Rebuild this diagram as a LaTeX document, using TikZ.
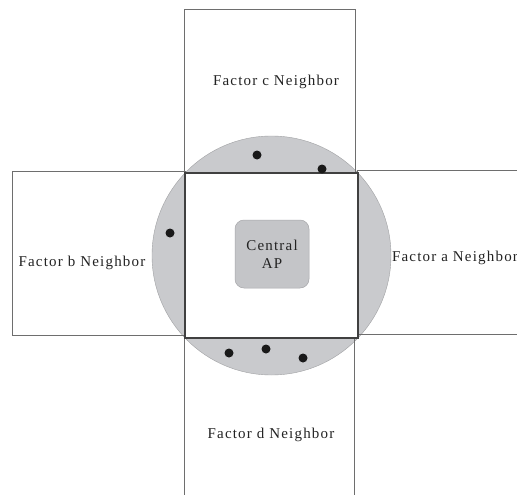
\documentclass[tikz,border=0pt]{standalone}
\usepackage{fontspec}
\newfontfamily\lblfont[LetterSpace=8]{Liberation Serif}
\definecolor{zonegray}{RGB}{201,202,205}
\definecolor{apgray}{RGB}{196,197,200}
\definecolor{edgegray}{RGB}{110,110,110}
\definecolor{txtgray}{RGB}{35,35,35}
\tikzset{
  area/.style={draw=edgegray, line width=0.8pt, fill=none},
  lbl/.style={font=\lblfont\fontsize{15}{17}\selectfont, text=txtgray, inner sep=0pt},
  station/.style={circle, fill=black!90, minimum size=9pt, inner sep=0pt},
}
\begin{document}
\begin{tikzpicture}[x=1pt,y=-1pt]
\useasboundingbox (0,0) rectangle (517,495);
\clip (0,0) rectangle (517,495);
\fill[white] (0,0) rectangle (517,495);
% coverage circle
\fill[zonegray, draw=zonegray!80!black, line width=0.4pt] (271.5,255.5) circle[radius=119.5];
% neighbor areas
\draw[area] (184,9) rectangle (355,173);
\draw[area] (184,337) rectangle (354,500);
\draw[area] (12,171) rectangle (185,335);
\draw[area] (357,170) rectangle (525,334);
% central cell
\draw[draw=black!75, line width=1.2pt, fill=white] (185,173) rectangle (358,338);
% central AP
\node[draw=apgray!85!black, line width=0.5pt, fill=apgray, rounded corners=9pt,
      minimum width=74pt, minimum height=68pt] (ap) at (272,254) {};
\node[lbl, align=center] (aptext) at (ap.center) {Central\\[1pt]AP};
% labels
\node[lbl] (lc) at (276,82) {Factor c Neighbor};
\node[lbl] (lb) at (82,263) {Factor b Neighbor};
\node[lbl] (la) at (455,258) {Factor a Neighbor};
\node[lbl] (ld) at (271,435) {Factor d Neighbor};
% stations
\node[station] (s1) at (257,155) {};
\node[station] (s2) at (322,169) {};
\node[station] (s3) at (170,233) {};
\node[station] (s4) at (229,353) {};
\node[station] (s5) at (266,349) {};
\node[station] (s6) at (303,358) {};
\end{tikzpicture}
\end{document}
